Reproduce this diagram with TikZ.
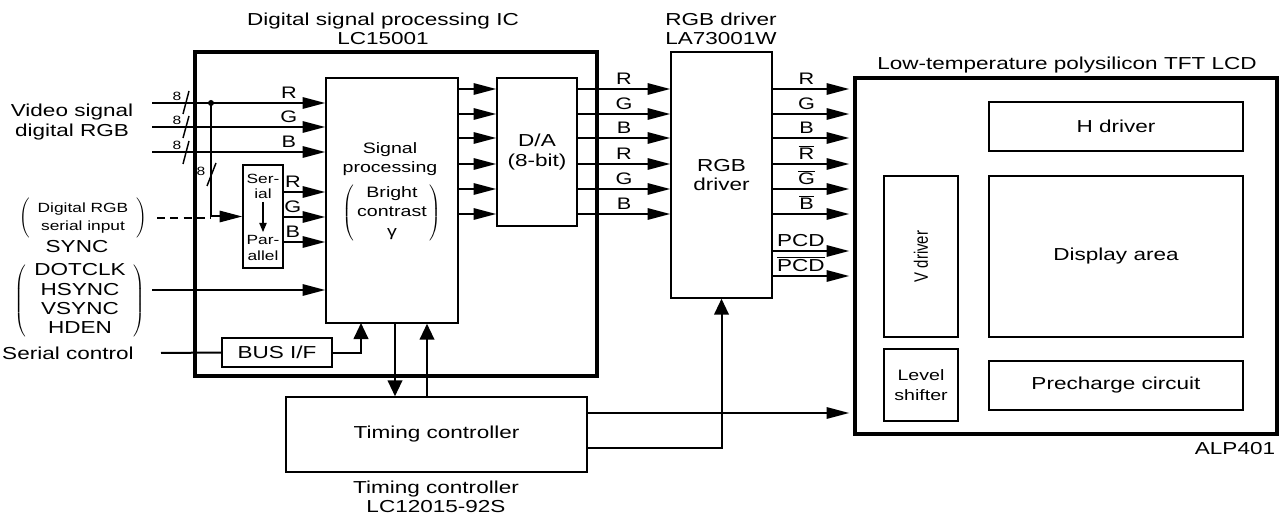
\documentclass[tikz,border=0pt]{standalone}
\usepackage{fontspec}
\setmainfont{Liberation Sans}[FakeStretch=1.3]
\newfontfamily\plainsans{Liberation Sans}
\usetikzlibrary{arrows.meta}

\tikzset{every picture/.style={line width=1.5pt}}
\tikzset{
  blk/.style={draw, line width=1.1pt, inner sep=0pt, align=center, font=\fontsize{13}{14.5}\selectfont},
  chip/.style={draw, line width=2.6pt, inner sep=0pt},
  arr/.style={-{Triangle[length=17pt,width=8.5pt]}},
  varr/.style={-{Triangle[length=12pt,width=11pt]}},
  sarr/.style={-{Triangle[length=7pt,width=5.5pt]}},
  txt/.style={inner sep=0pt, align=center, font=\fontsize{13}{14.5}\selectfont},
  mid/.style={inner sep=0pt, align=center, font=\fontsize{11.3}{14.5}\selectfont},
  sml/.style={inner sep=0pt, align=center, font=\fontsize{10}{11.3}\selectfont},
  sig/.style={above=1pt, inner sep=1.5pt, font=\fontsize{12.5}{13}\selectfont},
  bus8/.style={inner sep=0pt, font=\fontsize{9}{9}\selectfont},
}

\begin{document}
\begin{tikzpicture}[x=0.75pt,y=0.75pt,yscale=-1,xscale=1]
\useasboundingbox (0,0) rectangle (1287,516);

%Shape: Rectangle [Digital signal processing IC]
\node[chip, minimum width=301.5pt, minimum height=243pt] (ic) at (396,214) {};
% Text Node
\node[txt] (ictitle) at (383,29) {Digital signal processing IC\\LC15001};

%Shape: Rectangle [Signal processing]
\node[blk, minimum width=99pt, minimum height=183.75pt] (sp) at (392,200.5) {};
% Text Node
\node[mid] (sptxt) at (390,159) {Signal\\processing};
% Text Node
\node[mid] (spadj) at (392,213) {$\left(\begin{tabular}{@{\hspace{2pt}}c@{\hspace{2pt}}}Bright\\contrast\\γ\end{tabular}\right)$};

%Shape: Rectangle [D/A]
\node[blk, minimum width=60pt, minimum height=111pt] (da) at (537,152) {D/A\\(8-bit)};

%Shape: Rectangle [RGB driver]
\node[blk, minimum width=75.75pt, minimum height=184.5pt] (rgb) at (721.5,175) {RGB\\driver};
% Text Node
\node[txt] (rgbtitle) at (721,29) {RGB driver\\LA73001W};

%Shape: Rectangle [LCD panel]
\node[chip, minimum width=316.5pt, minimum height=267pt] (lcd) at (1066,256) {};
% Text Node
\node[txt] (lcdtitle) at (1067,65) {Low-temperature polysilicon TFT LCD};
\node[blk, minimum width=190.5pt, minimum height=36.75pt] (hdrv) at (1116,126.5) {H driver};
\node[blk, minimum width=190.5pt, minimum height=120.75pt] (disp) at (1116,256.5) {Display area};
\node[blk, minimum width=55.5pt, minimum height=120.75pt] (vdrv) at (921,256.5) {\rotatebox{90}{\scalebox{1}[1.3]{\plainsans\fontsize{11.2}{12}\selectfont V driver}}};
\node[blk, font=\fontsize{11.3}{14.5}\selectfont, minimum width=55.5pt, minimum height=54pt] (lvl) at (921,385) {Level\\shifter};
\node[blk, minimum width=190.5pt, minimum height=36.75pt] (pre) at (1116,385.5) {Precharge circuit};
% Text Node
\node[txt] (alp) at (1235,449) {ALP401};

%Shape: Rectangle [Timing controller]
\node[blk, minimum width=225.75pt, minimum height=56.25pt] (tc) at (436.5,434.5) {Timing controller};
% Text Node
\node[txt] (tctitle) at (436,497) {Timing controller\\LC12015-92S};

%Shape: Rectangle [BUS I/F]
\node[blk, minimum width=82.5pt, minimum height=21.75pt] (bus) at (277,352.5) {BUS I/F};

%Shape: Rectangle [Serial to parallel]
\node[blk, minimum width=30pt, minimum height=77.25pt] (s2p) at (263,216.5) {};
\node[sml] (ser) at (263,186) {Ser-\\ial};
\node[sml] (par) at (263,248) {Par-\\allel};
\draw[sarr, line width=1.1pt, shorten <=2pt, shorten >=2pt] (ser) -- (par);

% Text Node
\node[txt] (video) at (72,122) {Video signal\\digital RGB};
% Text Node
\node[font=\fontsize{10}{13.5}\selectfont, inner sep=0pt] (serin) at (83,218) {$\left(\begin{tabular}{c}Digital RGB\\serial input\end{tabular}\right)$};
% Text Node
\node[txt] (sync) at (77,247) {SYNC};
% Text Node
\node[txt] (syncs) at (80,301) {$\left(\begin{tabular}{c}DOTCLK\\HSYNC\\VSYNC\\HDEN\end{tabular}\right)$};
% Text Node
\node[txt] (serctl) at (68,353) {Serial control};

% coordinates of the signal rows
\coordinate (inR) at (152,103);
\coordinate (inG) at (152,127);
\coordinate (inB) at (152,152);
\coordinate (insync) at (152,290);
\coordinate (jn) at (211,103);
\coordinate (dsh) at (157,218);
\coordinate (inser) at (161,353);
\coordinate (busup) at (361,323);
\coordinate (dn) at (395,0);
\coordinate (up) at (427,0);
\coordinate (r1) at (0,89);
\coordinate (r2) at (0,114);
\coordinate (r3) at (0,138);
\coordinate (r4) at (0,164);
\coordinate (r5) at (0,189);
\coordinate (r6) at (0,214);
\coordinate (p1) at (0,251);
\coordinate (p2) at (0,276);
\coordinate (s1) at (0,192);
\coordinate (s2) at (0,217);
\coordinate (s3) at (0,242);
\coordinate (tcout1) at (587,413);
\coordinate (tcout2) at (587,448);

%Straight Lines [video inputs]
\draw[arr] (inR) -- (inR -| sp.west) node[pos=0.79, sig] {R};
\draw[arr] (inG) -- (inG -| sp.west) node[pos=0.79, sig] {G};
\draw[arr] (inB) -- (inB -| sp.west) node[pos=0.79, sig] {B};
\draw[line width=1.1pt] (183,114) -- (189,91);
\draw[line width=1.1pt] (183,138) -- (189,116);
\draw[line width=1.1pt] (183,164) -- (189,141);
\node[bus8] (w1) at (177,96) {8};
\node[bus8] (w2) at (177,120) {8};
\node[bus8] (w3) at (177,145) {8};
\fill (jn) circle (3);
\draw[arr] (jn) |- (s2p.west);
\draw[line width=1.1pt] (207,186) -- (216,163);
\node[bus8] (w4) at (201,171) {8};
\draw[dash pattern=on 6pt off 4pt] (dsh) -- (dsh -| jn);

%Straight Lines [serial to parallel outputs]
\draw[arr] (s2p.east |- s1) -- (sp.west |- s1) node[pos=0.22, sig] {R};
\draw[arr] (s2p.east |- s2) -- (sp.west |- s2) node[pos=0.22, sig] {G};
\draw[arr] (s2p.east |- s3) -- (sp.west |- s3) node[pos=0.22, sig] {B};

%Straight Lines [sync and control]
\draw[arr] (insync) -- (insync -| sp.west);
\draw (inser) -- (bus.west);
\draw[varr] (bus.east) -| (busup);
\draw[varr] (sp.south -| dn) -- (tc.north -| dn);
\draw[varr] (tc.north -| up) -- (sp.south -| up);

%Straight Lines [signal processing to D/A]
\draw[arr] (sp.east |- r1) -- (da.west |- r1);
\draw[arr] (sp.east |- r2) -- (da.west |- r2);
\draw[arr] (sp.east |- r3) -- (da.west |- r3);
\draw[arr] (sp.east |- r4) -- (da.west |- r4);
\draw[arr] (sp.east |- r5) -- (da.west |- r5);
\draw[arr] (sp.east |- r6) -- (da.west |- r6);

%Straight Lines [D/A to RGB driver]
\draw[arr] (da.east |- r1) -- (rgb.west |- r1) node[midway, sig] {R};
\draw[arr] (da.east |- r2) -- (rgb.west |- r2) node[midway, sig] {G};
\draw[arr] (da.east |- r3) -- (rgb.west |- r3) node[midway, sig] {B};
\draw[arr] (da.east |- r4) -- (rgb.west |- r4) node[midway, sig] {R};
\draw[arr] (da.east |- r5) -- (rgb.west |- r5) node[midway, sig] {G};
\draw[arr] (da.east |- r6) -- (rgb.west |- r6) node[midway, sig] {B};

%Straight Lines [RGB driver to LCD]
\draw[arr, shorten >=3pt] (rgb.east |- r1) -- (lcd.west |- r1) node[pos=0.42, sig] {R};
\draw[arr, shorten >=3pt] (rgb.east |- r2) -- (lcd.west |- r2) node[pos=0.42, sig] {G};
\draw[arr, shorten >=3pt] (rgb.east |- r3) -- (lcd.west |- r3) node[pos=0.42, sig] {B};
\draw[arr, shorten >=3pt] (rgb.east |- r4) -- (lcd.west |- r4) node[pos=0.42, sig] {$\overline{\mbox{R}}$};
\draw[arr, shorten >=3pt] (rgb.east |- r5) -- (lcd.west |- r5) node[pos=0.42, sig] {$\overline{\mbox{G}}$};
\draw[arr, shorten >=3pt] (rgb.east |- r6) -- (lcd.west |- r6) node[pos=0.42, sig] {$\overline{\mbox{B}}$};
\draw[arr, shorten >=3pt] (rgb.east |- p1) -- (lcd.west |- p1) node[pos=0.35, sig, font=\fontsize{13}{13}\selectfont] {PCD};
\draw[arr, shorten >=3pt] (rgb.east |- p2) -- (lcd.west |- p2) node[pos=0.35, sig, font=\fontsize{13}{13}\selectfont] {$\overline{\mbox{PCD}}$};

%Straight Lines [timing controller outputs]
\draw[arr, shorten >=3pt] (tcout1) -- (tcout1 -| lcd.west);
\draw[varr] (tcout2) -| (rgb.south);
\end{tikzpicture}
\end{document}
